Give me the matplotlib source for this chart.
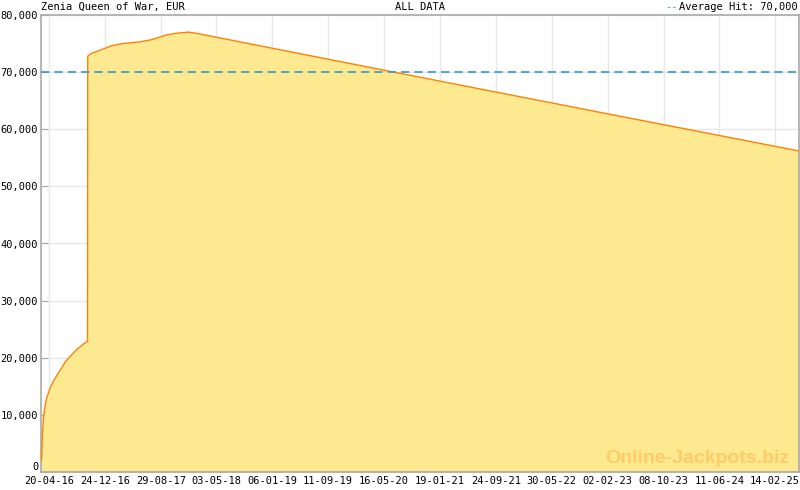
import numpy as np
import pandas as pd
import matplotlib
matplotlib.use('Agg')
import matplotlib.pyplot as plt
import matplotlib.dates as mdates
from matplotlib.transforms import offset_copy

# Jackpot-Verlauf
dates = ['2016-03-18', '2016-03-22', '2016-03-27', '2016-04-02', '2016-04-11',
         '2016-04-25', '2016-05-12', '2016-06-10', '2016-07-02', '2016-07-25',
         '2016-08-20', '2016-09-20', '2016-10-08', '2016-10-09', '2016-10-26',
         '2016-12-14', '2017-01-22', '2017-03-12', '2017-05-30', '2017-07-22',
         '2017-09-22', '2017-11-05', '2017-12-29', '2018-02-02', '2020-07-05',
         '2022-12-31', '2025-05-31']
values = [2100, 6800, 9600, 11500, 13100,
          14700, 16100, 17900, 19300, 20300,
          21400, 22400, 22900, 72800, 73300,
          74000, 74600, 75000, 75300, 75700,
          76500, 76800, 77000, 76800, 69950,
          62950, 56200]

avg_hit = 70000
tick_dates = ['2016-04-20', '2016-12-24', '2017-08-29', '2018-05-03', '2019-01-06',
              '2019-09-11', '2020-05-16', '2021-01-19', '2021-09-24', '2022-05-30',
              '2023-02-02', '2023-10-08', '2024-06-11', '2025-02-14']
y_ticks = np.arange(0, 80001, 10000)

title_left = 'Zenia Queen of War, EUR'
title_mid = 'ALL DATA'
legend_txt = 'Average Hit: 70,000'

x = pd.to_datetime(dates)
ticks = pd.to_datetime(tick_dates)

mono = 'DejaVu Sans Mono'
fs = 7.5
grey = '#aaaaaa'

fig = plt.figure(figsize=(8, 4.9), dpi=100)
ax = fig.add_axes([41 / 800, 18 / 490, 758 / 800, 457 / 490])

ax.fill_between(x, values, 0, color='#fde98f', lw=0, zorder=1)
ax.plot(x, values, color='#ff8000', lw=1.0, zorder=3)
ax.axhline(avg_hit, color='#3399cc', lw=1.2, ls=(0, (5, 3)), zorder=4)

ax.set_xlim(pd.Timestamp('2016-03-18'), pd.Timestamp('2025-05-31'))
ax.set_ylim(0, 80000)

ax.set_xticks(ticks)
ax.set_xticklabels([d.strftime('%d-%m-%y') for d in ticks], fontfamily=mono, fontsize=fs)
# Zwischen-Ticks: 7 Abschnitte je Intervall
tn = mdates.date2num(ticks)
step = (tn[1] - tn[0]) / 7
minor = np.arange(tn[0] - step, mdates.date2num(pd.Timestamp('2025-05-31')), step)
ax.set_xticks(minor, minor=True)

ax.set_yticks(y_ticks)
ax.set_yticklabels([f'{v:,}' for v in y_ticks], fontfamily=mono, fontsize=fs)
ax.get_yticklabels()[0].set_va('bottom')

ax.tick_params(axis='x', which='both', direction='in', length=3, color=grey, pad=3)
ax.tick_params(axis='y', direction='in', length=5, color=grey, pad=2)

ax.grid(True, which='major', color='#e8e8e8', lw=1, zorder=0)
ax.set_axisbelow(True)
for s in ax.spines.values():
    s.set_color(grey)
    s.set_linewidth(1.2)

fig.text(41 / 800, 1 - 7 / 490, title_left, fontfamily=mono, fontsize=fs, ha='left', va='center')
fig.text(420 / 800, 1 - 7 / 490, title_mid, fontfamily=mono, fontsize=fs, ha='center', va='center')
t = fig.text(798 / 800, 1 - 7 / 490, legend_txt, fontfamily=mono, fontsize=fs, ha='right', va='center')
tr = offset_copy(t.get_transform(), fig=fig, x=-(len(legend_txt) * 0.602 * fs + 1), y=0, units='points')
fig.text(798 / 800, 1 - 7 / 490, '--', fontfamily=mono, fontsize=fs, ha='right', va='center',
         color='#3399cc', transform=tr)

ax.text(0.987, 0.03, 'Online-Jackpots.biz', transform=ax.transAxes, ha='right', va='center',
        fontfamily='Liberation Sans', fontweight='bold', fontsize=14, color='#ffb84d', alpha=0.6, zorder=5)

fig.savefig('out.png', dpi=100)
